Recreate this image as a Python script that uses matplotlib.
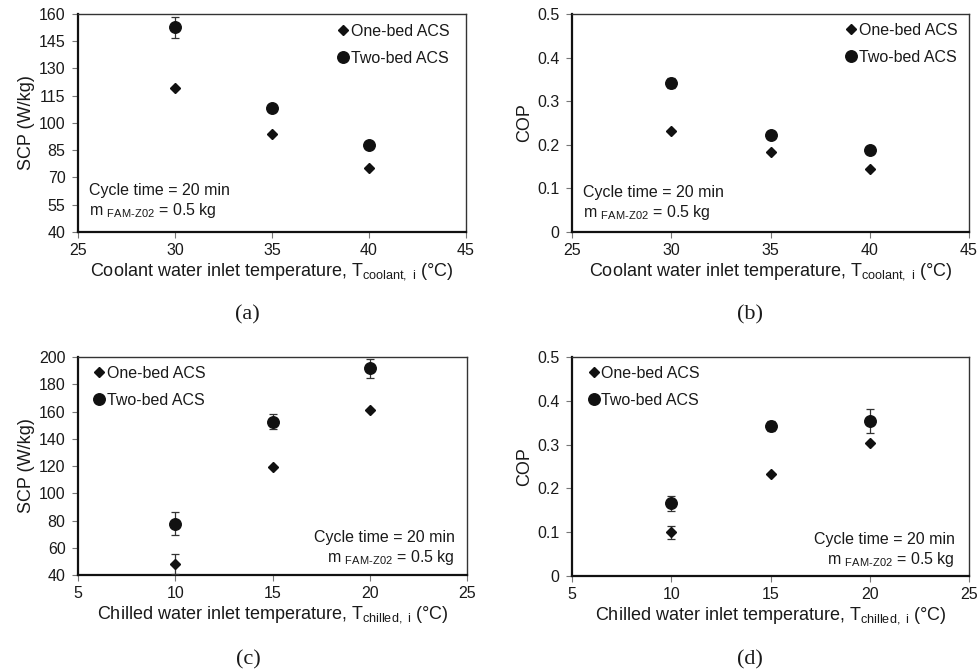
import matplotlib.pyplot as plt

plt.rcParams["font.family"] = ["Liberation Sans", "DejaVu Sans"]
plt.rcParams["mathtext.fontset"] = "custom"
plt.rcParams["mathtext.rm"] = "Liberation Sans"
plt.rcParams["mathtext.it"] = "Liberation Sans:italic"

# coolant temperature sweep (a, b)
coolant_t = [30, 35, 40]
scp_one_coolant = [119.3, 93.9, 75.0]
scp_two_coolant = [152.7, 108.2, 87.8]
scp_two_coolant_err = [5.7, 0.0, 0.0]
cop_one_coolant = [0.232, 0.184, 0.145]
cop_two_coolant = [0.342, 0.222, 0.187]
cop_two_coolant_err = [0.012, 0.0, 0.0]

# chilled temperature sweep (c, d)
chilled_t = [10, 15, 20]
scp_one_chilled = [48.1, 119.5, 161.1]
scp_one_chilled_err = [7.3, 0.0, 0.0]
scp_two_chilled = [77.7, 152.5, 191.7]
scp_two_chilled_err = [8.3, 5.6, 7.1]
cop_one_chilled = [0.100, 0.232, 0.303]
cop_one_chilled_err = [0.015, 0.0, 0.0]
cop_two_chilled = [0.166, 0.342, 0.354]
cop_two_chilled_err = [0.017, 0.012, 0.027]

TEXT = "#1a1a1a"
XLAB_COOL = r"Coolant water inlet temperature, T$_{\mathregular{coolant,\ i}}$ (°C)"
XLAB_CHILL = r"Chilled water inlet temperature, T$_{\mathregular{chilled,\ i}}$ (°C)"
NOTE = ["Cycle time = 20 min", r"m $_{\mathregular{FAM\text{-}Z02}}$ = 0.5 kg"]


def style_axes(ax):
    for side in ["left", "bottom"]:
        ax.spines[side].set_color("#111111")
        ax.spines[side].set_linewidth(1.6)
    for side in ["top", "right"]:
        ax.spines[side].set_color("#333333")
        ax.spines[side].set_linewidth(1.0)
    ax.tick_params(direction="out", length=4, width=0.8, color="#777777",
                   labelsize=11.5, labelcolor=TEXT)
    ax.tick_params(axis="x", pad=4)
    ax.tick_params(axis="y", pad=5)


def panel(ax, x, one, one_err, two, two_err, xlim, ylim, yticks, xlabel, ylabel,
          legend_loc, legend_anchor, note_xy, note_ha):
    ax.errorbar(x, one, yerr=one_err, fmt="D", ms=5.3, color="#111111",
                ecolor="#333333", elinewidth=0.9, capsize=3, capthick=0.9,
                label="One-bed ACS", zorder=3)
    ax.errorbar(x, two, yerr=two_err, fmt="o", ms=8.3, color="#111111",
                ecolor="#333333", elinewidth=0.9, capsize=3, capthick=0.9,
                label="Two-bed ACS", zorder=3)
    ax.set_xlim(*xlim)
    ax.set_ylim(*ylim)
    ax.set_xticks(range(xlim[0], xlim[1] + 1, 5))
    ax.set_yticks(yticks)
    ax.set_xlabel(xlabel, fontsize=13, color=TEXT, labelpad=2)
    ax.set_ylabel(ylabel, fontsize=13, color=TEXT, labelpad=3)
    style_axes(ax)

    handles, labels = ax.get_legend_handles_labels()
    handles = [h[0] for h in handles]
    ax.legend(handles, labels, loc=legend_loc, bbox_to_anchor=legend_anchor,
              frameon=False, fontsize=11.5, handlelength=0.7, handletextpad=0.15,
              labelspacing=0.75, borderpad=0, borderaxespad=0, labelcolor=TEXT)

    ax.text(note_xy[0], note_xy[1], NOTE[0], transform=ax.transAxes,
            ha=note_ha, va="center", fontsize=11.5, color=TEXT)
    ax.text(note_xy[0], note_xy[1] - 0.09, NOTE[1], transform=ax.transAxes,
            ha=note_ha, va="center", fontsize=11.5, color=TEXT)


fig = plt.figure(figsize=(9.78, 6.72), dpi=100)
ax_a = fig.add_axes([0.0798, 0.6548, 0.3967, 0.3244])
ax_b = fig.add_axes([0.5849, 0.6548, 0.4059, 0.3244])
ax_c = fig.add_axes([0.0798, 0.1443, 0.3978, 0.3244])
ax_d = fig.add_axes([0.5849, 0.1429, 0.4059, 0.3259])

panel(ax_a, coolant_t, scp_one_coolant, None, scp_two_coolant, scp_two_coolant_err,
      (25, 45), (40, 160), list(range(40, 161, 15)), XLAB_COOL, "SCP (W/kg)",
      "upper right", (0.958, 0.955), (0.028, 0.19), "left")
panel(ax_b, coolant_t, cop_one_coolant, None, cop_two_coolant, cop_two_coolant_err,
      (25, 45), (0, 0.5), [0, 0.1, 0.2, 0.3, 0.4, 0.5], XLAB_COOL, "COP",
      "upper right", (0.972, 0.96), (0.028, 0.18), "left")
ax_b.set_yticklabels(["0", "0.1", "0.2", "0.3", "0.4", "0.5"])
panel(ax_c, chilled_t, scp_one_chilled, scp_one_chilled_err, scp_two_chilled,
      scp_two_chilled_err, (5, 25), (40, 200), list(range(40, 201, 20)),
      XLAB_CHILL, "SCP (W/kg)", "upper left", (0.04, 0.96), (0.969, 0.17), "right")
panel(ax_d, chilled_t, cop_one_chilled, cop_one_chilled_err, cop_two_chilled,
      cop_two_chilled_err, (5, 25), (0, 0.5), [0, 0.1, 0.2, 0.3, 0.4, 0.5],
      XLAB_CHILL, "COP", "upper left", (0.04, 0.96), (0.964, 0.165), "right")
ax_d.set_yticklabels(["0", "0.1", "0.2", "0.3", "0.4", "0.5"])

for label, (x, y) in zip(["(a)", "(b)", "(c)", "(d)"],
                         [(247, 315), (750, 315), (248, 660), (750, 660)]):
    fig.text(x / 978, 1 - y / 672, label, ha="center", va="center",
             fontsize=16, family="Liberation Serif", color=TEXT)

fig.savefig("out.png", dpi=100)
